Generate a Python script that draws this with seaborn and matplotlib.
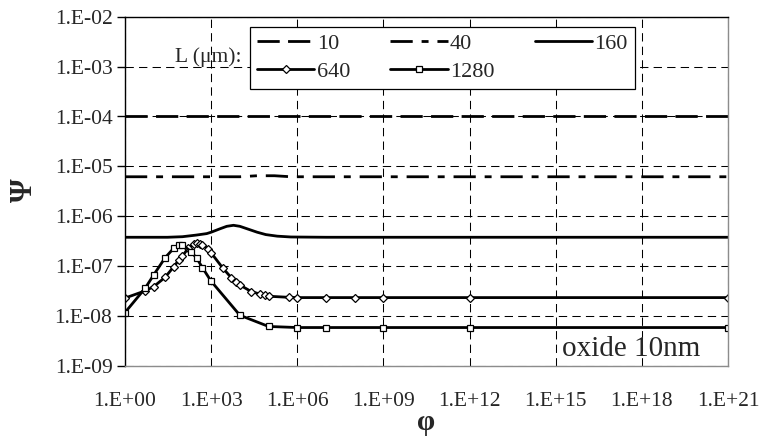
import numpy as np
import pandas as pd
import matplotlib
matplotlib.use("Agg")
import matplotlib.pyplot as plt
from matplotlib.ticker import FixedLocator, FuncFormatter, NullLocator
import seaborn as sns

# ---- datos (Psi vs phi, oxide 10nm) ----
phi_10 = [1e0, 1e21]
psi_10 = [1e-4, 1e-4]

phi_40 = [1e0, 1e4, 4e4, 1.6e5, 6e5, 1e21]
psi_40 = [6.2e-6, 6.2e-6, 6.5e-6, 6.5e-6, 6.2e-6, 6.2e-6]

phi_160 = [1e0, 3e1, 1e2, 3e2, 7e2, 1e3, 2e3, 3.5e3, 6e3, 1e4, 2e4, 4e4,
           8e4, 2e5, 6e5, 1e7, 1e21]
psi_160 = [3.8e-7, 3.8e-7, 3.9e-7, 4.2e-7, 4.5e-7, 4.8e-7, 5.6e-7, 6.3e-7,
           6.6e-7, 6.3e-7, 5.5e-7, 4.8e-7, 4.3e-7, 4.0e-7, 3.85e-7, 3.8e-7, 3.8e-7]

phi_640 = [1e0, 5e0, 1e1, 2.5e1, 5e1, 7.5e1, 1e2, 1.6e2, 2.5e2, 3.3e2, 4.2e2,
           5e2, 7.5e2, 1e3, 2.5e3, 5e3, 7.5e3, 1e4, 2.5e4, 5e4, 7.5e4, 1e5,
           5e5, 1e6, 1e7, 1e8, 1e9, 1e12, 1e21]
psi_640 = [2.3e-8, 3.2e-8, 3.9e-8, 6.0e-8, 9.8e-8, 1.33e-7, 1.6e-7, 2.3e-7,
           2.8e-7, 2.9e-7, 2.85e-7, 2.7e-7, 2.25e-7, 1.85e-7, 9.3e-8, 5.9e-8,
           4.8e-8, 4.2e-8, 3.1e-8, 2.77e-8, 2.6e-8, 2.5e-8, 2.38e-8, 2.35e-8,
           2.35e-8, 2.35e-8, 2.35e-8, 2.35e-8, 2.35e-8]

phi_1280 = [1e0, 5e0, 1e1, 2.5e1, 5e1, 7.5e1, 1e2, 2e2, 3.16e2, 5e2, 1e3,
            1e4, 1e5, 1e6, 1e7, 1e9, 1e12, 1e21]
psi_1280 = [1.18e-8, 3.6e-8, 6.7e-8, 1.48e-7, 2.3e-7, 2.7e-7, 2.7e-7, 1.95e-7,
            1.44e-7, 9.3e-8, 5.0e-8, 1.04e-8, 6.2e-9, 5.9e-9, 5.9e-9, 5.9e-9,
            5.9e-9, 5.9e-9]

x_decadas = [0, 3, 6, 9, 12, 15, 18, 21]
y_decadas = [-9, -8, -7, -6, -5, -4, -3, -2]

# ---- estilo ----
sns.set_style("white")
plt.rcParams['font.family'] = ['Liberation Serif', 'DejaVu Serif']

fig = plt.figure(figsize=(7.59, 4.37), dpi=100)
ax = fig.add_axes([125 / 759, 1 - 366 / 437, 603 / 759, 349.3 / 437])
ax.set_xscale("log")
ax.set_yscale("log")

# grid discontinuo
for e in x_decadas:
    ax.axvline(10.0 ** e, color="black", lw=0.75, ls=(0, (8, 5)), zorder=0.5)
for e in y_decadas:
    ax.axhline(10.0 ** e, color="black", lw=0.75, ls=(0, (8, 5)), zorder=0.5)

comun = dict(ax=ax, color="black", lw=2, errorbar=None)
sns.lineplot(x=phi_10, y=psi_10, linestyle=(0, (8, 3)), label="10", **comun)
sns.lineplot(x=phi_40, y=psi_40, linestyle=(0, (8, 3.2, 2.5, 3.2)), label="40", **comun)
sns.lineplot(x=phi_160, y=psi_160, linestyle="-", label="160", **comun)
sns.lineplot(x=phi_640, y=psi_640, linestyle="-", marker="D", ms=4.5,
             mfc="white", mec="black", mew=0.9, label="640", **comun)
sns.lineplot(x=phi_1280, y=psi_1280, linestyle="-", marker="s", ms=5,
             mfc="white", mec="black", mew=0.9, label="1280", **comun)

ax.set_xlim(1e0, 1e21)
ax.set_ylim(1e-9, 1e-2)

# ticks estilo Excel: 1.E+03
fmt = FuncFormatter(lambda v, p: "1.E{:+03d}".format(int(round(np.log10(v)))))
ax.xaxis.set_major_locator(FixedLocator([10.0 ** e for e in x_decadas]))
ax.yaxis.set_major_locator(FixedLocator([10.0 ** e for e in y_decadas]))
ax.xaxis.set_minor_locator(NullLocator())
ax.yaxis.set_minor_locator(NullLocator())
ax.xaxis.set_major_formatter(fmt)
ax.yaxis.set_major_formatter(fmt)
ax.tick_params(axis="x", length=0, pad=19, labelsize=15.5)
ax.tick_params(axis="y", direction="out", length=6, width=1, color="black",
               pad=3, labelsize=15.5, left=True)

for s in ["left", "top"]:
    ax.spines[s].set_color("black")
    ax.spines[s].set_linewidth(1)
for s in ["right", "bottom"]:
    ax.spines[s].set_color("#8c8c8c")
    ax.spines[s].set_linewidth(1)

# leyenda: fila 1 -> 10, 40, 160 ; fila 2 -> 640, 1280
h, l = ax.get_legend_handles_labels()
d = dict(zip(l, h))
orden = ["10", "640", "40", "1280", "160"]
leg = ax.legend([d[k] for k in orden], orden, ncol=3, loc="upper left",
                bbox_to_anchor=((250 - 125) / 603, 1 - 10 / 349.3),
                borderaxespad=0, fontsize=16, frameon=True, fancybox=False,
                edgecolor="black", framealpha=1, numpoints=1,
                handlelength=2.6, handletextpad=0.1, columnspacing=1.8,
                labelspacing=0.35, borderpad=0.3)
leg.get_frame().set_linewidth(0.9)

fig.text(175 / 759, 1 - 57 / 437, "L (\u03bcm):", ha="left", va="center", fontsize=15.5)
fig.text(562 / 759, 1 - 356 / 437, "oxide 10nm", ha="left", va="baseline", fontsize=21)
fig.text(24 / 759, 1 - 190 / 437, "\u03a8", rotation=90, ha="center", va="center",
         fontsize=22, fontweight="bold")
fig.text(426 / 759, 1 - 423 / 437, "\u03c6", ha="center", va="center",
         fontsize=21, fontweight="bold")

fig.savefig("out.png", dpi=100)
